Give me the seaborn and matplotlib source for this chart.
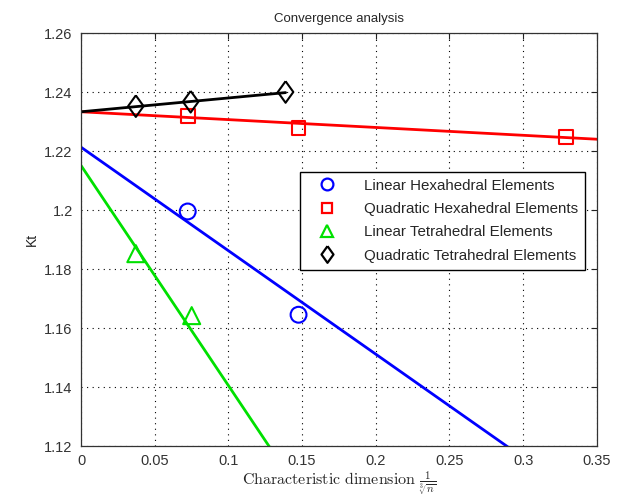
import matplotlib
matplotlib.use("Agg")
import matplotlib.pyplot as plt
import seaborn as sns
import pandas as pd
from matplotlib.lines import Line2D

# ---- data ----
lin_hex_x = [0.0724, 0.1476]
lin_hex_y = [1.1995, 1.1645]
quad_hex_x = [0.0724, 0.1476, 0.329]
quad_hex_y = [1.2318, 1.2279, 1.2247]
lin_tet_x = [0.0372, 0.0751]
lin_tet_y = [1.1852, 1.1642]
quad_tet_x = [0.0372, 0.0744, 0.1388]
quad_tet_y = [1.2352, 1.2367, 1.2400]

# fitted lines (endpoints)
fit_lin_hex_x = [0.0, 0.35]
fit_lin_hex_y = [1.2213, 1.0985]
fit_quad_hex_x = [0.0, 0.35]
fit_quad_hex_y = [1.2333, 1.2240]
fit_lin_tet_x = [0.0, 0.35]
fit_lin_tet_y = [1.2151, 0.954]
fit_quad_tet_x = [0.0, 0.1388]
fit_quad_tet_y = [1.2333, 1.2398]

labels = ["Linear Hexahedral Elements", "Quadratic Hexahedral Elements",
          "Linear Tetrahedral Elements", "Quadratic Tetrahedral Elements"]
colors = ["#0000ff", "#ff0000", "#00e000", "#000000"]
diamond = [(0, 1), (0.72, 0), (0, -1), (-0.72, 0), (0, 1)]
markers = ["o", "s", "^", diamond]
xticks = [0, 0.05, 0.1, 0.15, 0.2, 0.25, 0.3, 0.35]
xticklabels = ["0", "0.05", "0.1", "0.15", "0.2", "0.25", "0.3", "0.35"]
yticks = [1.12, 1.14, 1.16, 1.18, 1.2, 1.22, 1.24, 1.26]
yticklabels = ["1.12", "1.14", "1.16", "1.18", "1.2", "1.22", "1.24", "1.26"]

sns.set_style("white")
plt.rcParams['font.family'] = ['Liberation Sans', 'DejaVu Sans']
plt.rcParams['mathtext.fontset'] = 'cm'

fig = plt.figure(figsize=(6.25, 4.98), dpi=100)
ax = fig.add_axes([0.1296, 0.1044, 0.8254, 0.8293])

fits = [(fit_lin_hex_x, fit_lin_hex_y), (fit_quad_hex_x, fit_quad_hex_y),
        (fit_lin_tet_x, fit_lin_tet_y), (fit_quad_tet_x, fit_quad_tet_y)]
pts = [(lin_hex_x, lin_hex_y), (quad_hex_x, quad_hex_y),
       (lin_tet_x, lin_tet_y), (quad_tet_x, quad_tet_y)]
msizes = [130, 100, 150, 240]

for (fx, fy), c in zip(fits, colors):
    sns.lineplot(x=fx, y=fy, ax=ax, color=c, linewidth=2.0, sort=False,
                 estimator=None, zorder=2)
for (px, py), c, m, s in zip(pts, colors, markers, msizes):
    sns.scatterplot(x=px, y=py, ax=ax, marker=m, s=s, facecolor='none',
                    edgecolor=c, linewidth=1.5, zorder=3)

ax.set_xlim(0, 0.35)
ax.set_ylim(1.12, 1.26)
ax.set_xticks(xticks)
ax.set_xticklabels(xticklabels)
ax.set_yticks(yticks)
ax.set_yticklabels(yticklabels)
ax.grid(True, linestyle=(0, (1, 4)), color='black', linewidth=0.8)
ax.tick_params(direction='in', top=True, right=True, length=4, width=0.8,
               labelsize=10.5, colors='#222222', labelcolor='#333333', pad=6)
for sp in ax.spines.values():
    sp.set_color('#333333')
    sp.set_linewidth(0.9)

ax.set_title("Convergence analysis", fontsize=9.5, pad=8)
ax.set_ylabel("Kt", fontsize=10)
ax.set_xlabel(r"$\mathrm{Characteristic\ dimension}\ \frac{1}{\sqrt[3]{n}}$",
              fontsize=11.5, labelpad=1)

hsizes = [8.5, 7.5, 9, 12]
handles = [Line2D([], [], linestyle='none', marker=m, markersize=hs,
                  markerfacecolor='none', markeredgecolor=c, markeredgewidth=1.6)
           for c, m, hs in zip(colors, markers, hsizes)]
leg = ax.legend(handles, labels, loc='upper left', bbox_to_anchor=(0.424, 0.664),
                fontsize=10.9, fancybox=False, edgecolor='black', framealpha=1,
                borderpad=0.45, labelspacing=0.62, handletextpad=1.1,
                borderaxespad=0, handlelength=2.7)
leg.get_frame().set_linewidth(1.0)

fig.savefig("out.png", dpi=100)
